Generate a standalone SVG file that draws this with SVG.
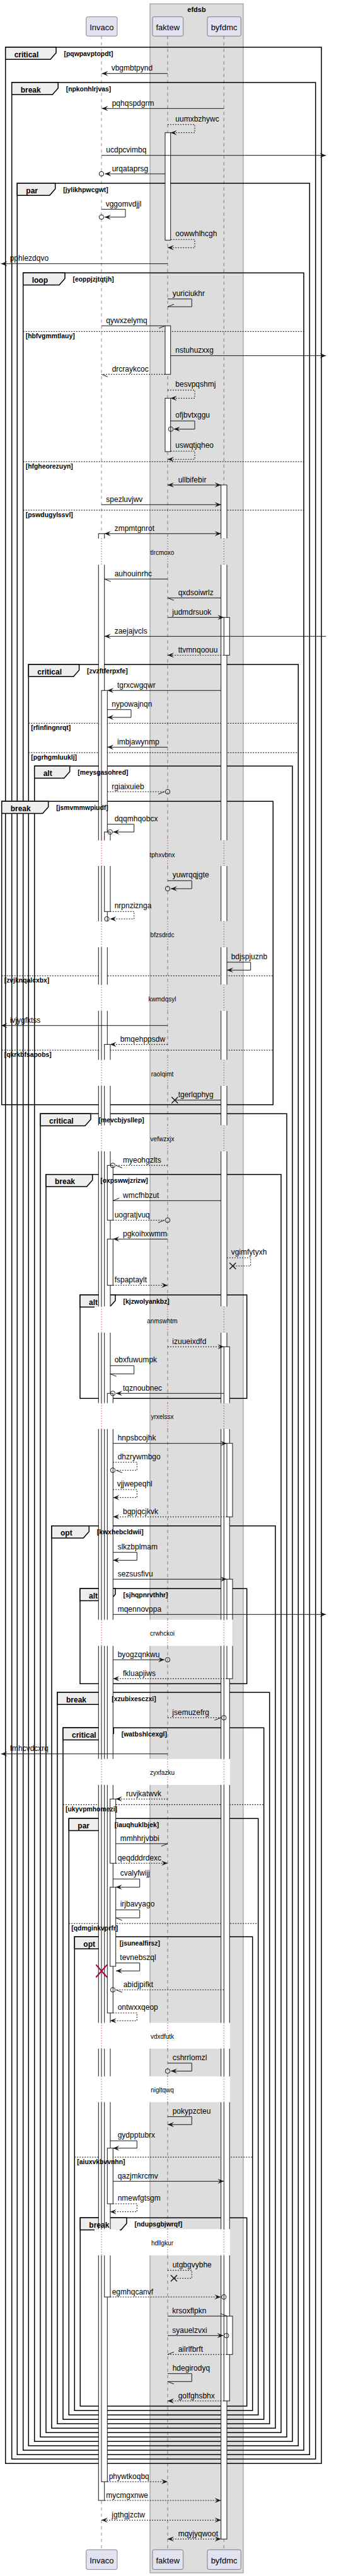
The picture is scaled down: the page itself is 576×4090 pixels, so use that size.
<svg xmlns="http://www.w3.org/2000/svg" xmlns:xlink="http://www.w3.org/1999/xlink" width="576" height="4090" viewBox="0 0 576 4090">
<style>
.t{font-family:"Liberation Sans",Arial,sans-serif;font-size:12px;fill:#000}
.kw{font-family:"Liberation Sans",Arial,sans-serif;font-size:12px;font-weight:bold;fill:#000}
.c{font-family:"Liberation Sans",Arial,sans-serif;font-size:10.4px;font-weight:bold;fill:#000}
.dt{font-family:"Liberation Sans",Arial,sans-serif;font-size:10px;fill:#000;text-anchor:middle}
.pn{font-family:"Liberation Sans",Arial,sans-serif;font-size:13px;fill:#000;text-anchor:middle}
.bt{font-family:"Liberation Sans",Arial,sans-serif;font-size:11px;font-weight:bold;fill:#000;text-anchor:middle}
.pb{fill:#E2E2F0;stroke:#181818;stroke-width:0.5}
.ll{fill:none;stroke:#181818;stroke-width:0.5;stroke-dasharray:5,5}
.dl{fill:none;stroke:#A80036;stroke-width:1;stroke-dasharray:1,3}
.bar{fill:#fff;stroke:#181818;stroke-width:1}
.wp{fill:#fff;stroke:none}
.gp{fill:#DDDDDD;stroke:none}
.fr{fill:none;stroke:#000;stroke-width:1.5}
.tab{fill:#EEEEEE;stroke:#000;stroke-width:1.5}
.sep{stroke:#000;stroke-width:1;stroke-dasharray:2,2}
.m{fill:none;stroke:#181818;stroke-width:1}
.d{stroke-dasharray:2,2}
.o{fill:none;stroke:#181818;stroke-width:1}
.x{fill:none;stroke:#181818;stroke-width:1.5}
</style>
<defs>
<marker id="f" markerUnits="userSpaceOnUse" markerWidth="12" markerHeight="10" refX="10" refY="4" orient="auto" overflow="visible"><polygon points="0,0 10,4 0,8 4,4" fill="#181818"/></marker>
<marker id="fs" markerUnits="userSpaceOnUse" markerWidth="12" markerHeight="10" refX="10" refY="4" orient="auto-start-reverse" overflow="visible"><polygon points="0,0 10,4 0,8 4,4" fill="#181818"/></marker>
<marker id="p" markerUnits="userSpaceOnUse" markerWidth="12" markerHeight="10" refX="10" refY="4" orient="auto" overflow="visible"><polyline points="0,8 10,4" fill="none" stroke="#181818" stroke-width="1"/></marker>
<marker id="n" markerUnits="userSpaceOnUse" markerWidth="12" markerHeight="10" refX="10" refY="4" orient="auto" overflow="visible"><polyline points="0,0 10,4" fill="none" stroke="#181818" stroke-width="1"/></marker>
<path id="lld" d="M0,57.3V855M0,896.7V1334.3M0,1375V1462.7M0,1504V1563.3M0,1605V1682.7M0,1724V1786.7M0,1828V2074.3M0,2116V2227.7M0,2269V2571.7M0,2613.3V2792.7M0,2834V3211.7M0,3252.7V3296.7M0,3337.7V3539.3M0,3581V4048.3"/>
<path id="lldot" d="M0,855V896.7M0,1334.3V1375M0,1462.7V1504M0,1563.3V1605M0,1682.7V1724M0,1786.7V1828M0,2074.3V2116M0,2227.7V2269M0,2571.7V2613.3M0,2792.7V2834M0,3211.7V3252.7M0,3296.7V3337.7M0,3539.3V3581"/>
</defs>
<rect width="576" height="4090" fill="#fff"/>
<g id="box-efdsb">
<rect x="238" y="6" width="148" height="4079" fill="#DDDDDD" stroke="#8a8a8a" stroke-width="1"/>
<text class="bt" x="312" y="18.7">efdsb</text>
</g>
<g id="delay-bg">
<rect class="wp" x="155.7" y="2571.7" width="213.3" height="41.6"/>
<rect class="wp" x="155.7" y="2792.7" width="209.3" height="41.3"/>
<rect class="wp" x="155.7" y="3211.7" width="209.3" height="41"/>
<rect class="wp" x="155.7" y="3296.7" width="209.3" height="41"/>
<rect class="wp" x="155.7" y="3539.3" width="209.3" height="41.7"/>
</g>
<g id="lifelines">
<use href="#lld" x="161" class="ll"/>
<use href="#lld" x="266" class="ll"/>
<use href="#lld" x="355.3" class="ll"/>
</g>
<g id="fragments">
<rect class="fr" x="8.7" y="75" width="501.3" height="3836.3"/>
<polygon class="tab" points="8.7,75 89,75 89,84 80,94.3 8.7,94.3"/>
<rect class="fr" x="18.7" y="131" width="482" height="3773.3"/>
<polygon class="tab" points="18.7,131 92.2,131 92.2,140 83.2,150.3 18.7,150.3"/>
<rect class="fr" x="27.3" y="291" width="464" height="3606.3"/>
<polygon class="tab" points="27.3,291 87.7,291 87.7,300 78.7,310.3 27.3,310.3"/>
<rect class="fr" x="36.7" y="433.3" width="445.3" height="3457"/>
<polygon class="tab" points="36.7,433.3 103,433.3 103,442.3 94,452.6 36.7,452.6"/>
<line class="sep" x1="36.7" y1="526.3" x2="482" y2="526.3"/>
<line class="sep" x1="36.7" y1="733" x2="482" y2="733"/>
<line class="sep" x1="36.7" y1="810" x2="482" y2="810"/>
<rect class="fr" x="45.3" y="1055" width="428" height="2828.3"/>
<polygon class="tab" points="45.3,1055 125.6,1055 125.6,1064 116.6,1074.3 45.3,1074.3"/>
<line class="sep" x1="45.3" y1="1148.3" x2="473.3" y2="1148.3"/>
<line class="sep" x1="45.3" y1="1195" x2="473.3" y2="1195"/>
<rect class="fr" x="54.7" y="1216.3" width="409.3" height="2660"/>
<polygon class="tab" points="54.7,1216.3 110.7,1216.3 110.7,1225.3 101.7,1235.6 54.7,1235.6"/>
<rect class="fr" x="2.7" y="1272.3" width="430.6" height="481.7"/>
<polygon class="tab" points="2.7,1272.3 76.7,1272.3 76.7,1281.3 67.7,1291.6 2.7,1291.6"/>
<line class="sep" x1="2.7" y1="1549.3" x2="433.3" y2="1549.3"/>
<line class="sep" x1="2.7" y1="1667.3" x2="433.3" y2="1667.3"/>
<rect class="fr" x="64" y="1768.3" width="391" height="2101"/>
<polygon class="tab" points="64,1768.3 144,1768.3 144,1777.3 135,1787.6 64,1787.6"/>
<rect class="fr" x="73" y="1864.7" width="373" height="1997.6"/>
<polygon class="tab" points="73,1864.7 146.7,1864.7 146.7,1873.7 137.7,1884 73,1884"/>
<rect class="fr" x="127" y="2056" width="264.7" height="164.3"/>
<polygon class="tab" points="127,2056 183,2056 183,2065 174,2075.3 127,2075.3"/>
<rect class="fr" x="82" y="2422.7" width="355" height="1432.6"/>
<polygon class="tab" points="82,2422.7 141.3,2422.7 141.3,2431.7 132.3,2442 82,2442"/>
<rect class="fr" x="127" y="2522.3" width="264.7" height="151"/>
<polygon class="tab" points="127,2522.3 183,2522.3 183,2531.3 174,2541.6 127,2541.6"/>
<rect class="fr" x="91" y="2687" width="336.7" height="1161.3"/>
<polygon class="tab" points="91,2687 164.7,2687 164.7,2696 155.7,2706.3 91,2706.3"/>
<rect class="fr" x="100" y="2743.3" width="318.7" height="1098"/>
<polygon class="tab" points="100,2743.3 180.3,2743.3 180.3,2752.3 171.3,2762.6 100,2762.6"/>
<line class="sep" x1="100" y1="2865.3" x2="418.7" y2="2865.3"/>
<rect class="fr" x="109.3" y="2887.3" width="300.4" height="947"/>
<polygon class="tab" points="109.3,2887.3 169.3,2887.3 169.3,2896.3 160.3,2906.6 109.3,2906.6"/>
<line class="sep" x1="109.3" y1="3054" x2="409.7" y2="3054"/>
<rect class="fr" x="118.3" y="3075" width="282.4" height="752.3"/>
<polygon class="tab" points="118.3,3075 177.3,3075 177.3,3084 168.3,3094.3 118.3,3094.3"/>
<line class="sep" x1="118.3" y1="3425" x2="400.7" y2="3425"/>
<rect class="fr" x="127.3" y="3521.3" width="264.4" height="299"/>
<polygon class="tab" points="127.3,3521.3 201,3521.3 201,3530.3 192,3540.6 127.3,3540.6"/>
</g>
<g id="activations">
<rect class="bar" x="156.3" y="847.3" width="9.4" height="3122.7"/>
<rect class="bar" x="161" y="1096.3" width="9.3" height="2844"/>
<rect class="bar" x="165.7" y="1321" width="9.3" height="126.3"/>
<rect class="bar" x="165.7" y="1658.3" width="9.3" height="1988.7"/>
<rect class="bar" x="170.3" y="1850.3" width="9" height="87"/>
<rect class="bar" x="170.3" y="1967.3" width="9" height="73.4"/>
<rect class="bar" x="170.3" y="2212.3" width="9" height="983.7"/>
<rect class="bar" x="170.3" y="3410.7" width="9" height="88.3"/>
<rect class="bar" x="174.7" y="2856.3" width="9" height="102"/>
<rect class="bar" x="174.7" y="2996.3" width="9" height="125.7"/>
<rect class="bar" x="262" y="210.7" width="8.7" height="170.6"/>
<rect class="bar" x="262" y="517.3" width="8.7" height="77"/>
<rect class="bar" x="262" y="632.3" width="8.7" height="84.7"/>
<rect class="bar" x="350.7" y="770" width="9.3" height="3261.3"/>
<rect class="bar" x="355.3" y="980.3" width="9" height="60"/>
<rect class="bar" x="355.3" y="2138.3" width="9" height="1673.7"/>
<rect class="bar" x="360" y="2291.7" width="9" height="116.6"/>
<rect class="bar" x="360" y="2507.3" width="9" height="158"/>
<rect class="bar" x="360" y="3677.3" width="9" height="61"/>
</g>
<g id="delays">
<rect class="wp" x="150" y="855" width="40" height="41.7"/>
<rect class="wp" x="150" y="1334.3" width="40" height="40.7"/>
<rect class="wp" x="150" y="1462.7" width="40" height="41.3"/>
<rect class="wp" x="150" y="1563.3" width="40" height="41.7"/>
<rect class="wp" x="150" y="1682.7" width="40" height="41.3"/>
<rect class="wp" x="150" y="1786.7" width="40" height="41.3"/>
<rect class="wp" x="150" y="2074.3" width="40" height="41.7"/>
<rect class="wp" x="150" y="2227.7" width="40" height="41.3"/>
<rect class="wp" x="150" y="2571.7" width="40" height="41.6"/>
<rect class="wp" x="150" y="2792.7" width="40" height="41.3"/>
<rect class="wp" x="150" y="3211.7" width="40" height="41"/>
<rect class="wp" x="150" y="3296.7" width="40" height="41"/>
<rect class="wp" x="150" y="3539.3" width="40" height="41.7"/>
<rect class="gp" x="349.5" y="855" width="21" height="41.7"/>
<rect class="gp" x="349.5" y="1334.3" width="21" height="40.7"/>
<rect class="gp" x="349.5" y="1462.7" width="21" height="41.3"/>
<rect class="gp" x="349.5" y="1563.3" width="21" height="41.7"/>
<rect class="gp" x="349.5" y="1682.7" width="21" height="41.3"/>
<rect class="gp" x="349.5" y="1786.7" width="21" height="41.3"/>
<rect class="gp" x="349.5" y="2074.3" width="21" height="41.7"/>
<rect class="gp" x="349.5" y="2227.7" width="21" height="41.3"/>
<rect class="wp" x="349.5" y="2571.7" width="20" height="41.6"/>
<rect class="gp" x="369.5" y="2571.7" width="1" height="41.6"/>
<rect class="wp" x="349.5" y="2792.7" width="15.5" height="41.3"/>
<rect class="wp" x="349.5" y="3211.7" width="15.5" height="41"/>
<rect class="wp" x="349.5" y="3296.7" width="15.5" height="41"/>
<rect class="wp" x="349.5" y="3539.3" width="15.5" height="41.7"/>
<rect class="gp" x="365" y="2792.7" width="5.5" height="41.3"/>
<rect class="gp" x="365" y="3211.7" width="5.5" height="41"/>
<rect class="gp" x="365" y="3296.7" width="5.5" height="41"/>
<rect class="gp" x="365" y="3539.3" width="5.5" height="41.7"/>
<use href="#lldot" x="161" class="dl"/>
<use href="#lldot" x="266" class="dl"/>
<use href="#lldot" x="355.3" class="dl"/>
<text class="dt" x="257.5" y="881">tlrcmoxo</text>
<text class="dt" x="257.5" y="1360.5">tphxvbnx</text>
<text class="dt" x="257.5" y="1488">bfzsdrdc</text>
<text class="dt" x="257.5" y="1589.5">kwmdqsyl</text>
<text class="dt" x="257.5" y="1708.5">raolqimt</text>
<text class="dt" x="257.5" y="1812">vefwzxjx</text>
<text class="dt" x="257.5" y="2100.5">anmswhtm</text>
<text class="dt" x="257.5" y="2253">yrxelssx</text>
<text class="dt" x="257.5" y="2597">crwhckoi</text>
<text class="dt" x="257.5" y="2818">zyxfazku</text>
<text class="dt" x="257.5" y="3237">vdxdfutk</text>
<text class="dt" x="257.5" y="3322">nigltqwq</text>
<text class="dt" x="257.5" y="3565">hdllgkur</text>
</g>
<g id="fragment-labels">
<text class="kw" x="22.7" y="90.7">critical</text><text class="c" x="101.5" y="88.7">[pqwpavptopdt]</text>
<text class="kw" x="32.7" y="146.7">break</text><text class="c" x="104.7" y="144.7">[npkonhlrjvas]</text>
<text class="kw" x="41.3" y="306.7">par</text><text class="c" x="100.2" y="304.7">[jylikhpwcgwt]</text>
<text class="kw" x="50.7" y="449">loop</text><text class="c" x="115.5" y="447">[eoppjzjtqtjh]</text>
<text class="c" x="40.7" y="537.3">[hbfvgmmtlauy]</text>
<text class="c" x="40.7" y="744">[hfgheorezuyn]</text>
<text class="c" x="40.7" y="821">[pswdugylssvl]</text>
<text class="kw" x="59.3" y="1070.7">critical</text><text class="c" x="138.1" y="1068.7">[zvzftferpxfe]</text>
<text class="c" x="49.3" y="1159.3">[rfinfingnrqt]</text>
<text class="c" x="49.3" y="1206">[pgrhgmluuklj]</text>
<text class="kw" x="68.7" y="1232">alt</text><text class="c" x="123.2" y="1230">[meysgasohred]</text>
<text class="kw" x="16.7" y="1288">break</text><text class="c" x="89.2" y="1286">[jsmvmmwpiudf]</text>
<text class="c" x="6.7" y="1560.3">[zvjknqalcxbx]</text>
<text class="c" x="6.7" y="1678.3">[qkrkbfsapobs]</text>
<text class="kw" x="78" y="1784">critical</text><text class="c" x="156.5" y="1782">[mevcbjysllep]</text>
<text class="kw" x="87" y="1880.4">break</text><text class="c" x="159.2" y="1878.4">[oxpswwjzrizw]</text>
<text class="kw" x="141" y="2071.7">alt</text><text class="c" x="195.5" y="2069.7">[kjzwolyankbz]</text>
<text class="kw" x="96" y="2438.4">opt</text><text class="c" x="153.8" y="2436.4">[kwxhebcldwii]</text>
<text class="kw" x="141" y="2538">alt</text><text class="c" x="195.5" y="2536">[sjhqpnrvthhr]</text>
<text class="kw" x="105" y="2702.7">break</text><text class="c" x="177.2" y="2700.7">[xzubixesczxi]</text>
<text class="kw" x="114" y="2759">critical</text><text class="c" x="192.8" y="2757">[watbshlcexgl]</text>
<text class="c" x="104" y="2876.3">[ukyvpmhomezi]</text>
<text class="kw" x="123.3" y="2903">par</text><text class="c" x="181.8" y="2901">[iauqhuklbjek]</text>
<text class="c" x="113.3" y="3065">[qdmginkvprfr]</text>
<text class="kw" x="132.3" y="3090.7">opt</text><text class="c" x="189.8" y="3088.7">[jsunealfirsz]</text>
<text class="c" x="122.3" y="3436">[aiuxvkbvvnhn]</text>
<text class="kw" x="141.3" y="3537">break</text><text class="c" x="213.5" y="3535">[ndupsgbjwrqf]</text>
</g>
<g id="p-invaco">
<rect class="pb" x="136.7" y="26.7" width="49.3" height="30.6" rx="2.5"/>
<text class="pn" x="161.3" y="48.3">Invaco</text>
<rect class="pb" x="136.7" y="4048.3" width="49.3" height="31.3" rx="2.5"/>
<text class="pn" x="161.3" y="4070">Invaco</text>
</g>
<g id="p-faktew">
<rect class="pb" x="242" y="26.7" width="48.7" height="30.6" rx="2.5"/>
<text class="pn" x="266.3" y="48.3">faktew</text>
<rect class="pb" x="242" y="4048.3" width="48.7" height="31.3" rx="2.5"/>
<text class="pn" x="266.3" y="4070">faktew</text>
</g>
<g id="p-byfdmc">
<rect class="pb" x="329" y="26.7" width="53.3" height="30.6" rx="2.5"/>
<text class="pn" x="355.6" y="48.3">byfdmc</text>
<rect class="pb" x="329" y="4048.3" width="53.3" height="31.3" rx="2.5"/>
<text class="pn" x="355.6" y="4070">byfdmc</text>
</g>
<g id="destroy-invaco">
<path d="M152.3,3119.3L170,3139.5M170,3119.3L152.3,3139.5" fill="none" stroke="#A80036" stroke-width="2"/>
</g>
<g id="connectors">
<line class="m" x1="266" y1="116.7" x2="161.5" y2="116.7" marker-end="url(#f)"/><text class="t" x="176.7" y="112.2">vbgmbtpynd</text>
<line class="m" x1="355.3" y1="172.3" x2="161.5" y2="172.3" marker-end="url(#f)"/><text class="t" x="177.7" y="167.8">pqhqspdgrm</text>
<polyline class="m d" points="266,197.7 309,197.7 309,210.7 270.7,210.7" marker-end="url(#f)"/><text class="t" x="278.3" y="192.7">uumxbzhywc</text>
<line class="m" x1="161" y1="246.7" x2="517.3" y2="246.7" marker-end="url(#f)"/><text class="t" x="168.3" y="242.2">ucdpcvimbq</text>
<line class="m" x1="262" y1="276" x2="166.5" y2="276" marker-end="url(#f)"/><circle class="o" cx="161" cy="276" r="3.7"/><text class="t" x="177.7" y="271.5">urqataprsg</text>
<polyline class="m" points="161,332.3 199,332.3 199,344.7 166,344.7" marker-end="url(#f)"/><circle class="o" cx="161" cy="344.7" r="3.7"/><text class="t" x="167.7" y="327.5">vggomvdjjl</text>
<polyline class="m d" points="270.7,380.3 309,380.3 309,393.3 266,393.3" marker-end="url(#f)"/><text class="t" x="278.3" y="375.3">oowwhlhcgh</text>
<line class="m" x1="266" y1="418.7" x2="1.7" y2="418.7" marker-end="url(#f)"/><text class="t" x="15.7" y="414.2">pphlezdqvo</text>
<polyline class="m" points="266,474.7 304.3,474.7 304.3,487 266,487" marker-end="url(#p)"/><text class="t" x="273.7" y="469.7">yuriciukhr</text>
<line class="m" x1="161" y1="517.3" x2="262" y2="517.3" marker-end="url(#p)"/><text class="t" x="168.3" y="512.8">qywxzelymq</text>
<line class="m" x1="270.7" y1="564.7" x2="517.3" y2="564.7" marker-end="url(#f)"/><text class="t" x="278.3" y="560.2">nstuhuzxxg</text>
<line class="m d" x1="262" y1="594.3" x2="161" y2="594.3" marker-end="url(#n)"/><text class="t" x="177.7" y="589.8">drcraykcoc</text>
<polyline class="m d" points="266,619.3 309,619.3 309,632.3 270.7,632.3" marker-end="url(#f)"/><text class="t" x="278.3" y="614.3">besvpqshmj</text>
<polyline class="m" points="270.7,668.3 309,668.3 309,681.3 275.7,681.3" marker-end="url(#f)"/><circle class="o" cx="271" cy="681.3" r="3.7"/><text class="t" x="278.3" y="663.3">ofjbvtxggu</text>
<polyline class="m d" points="270.7,716.3 309,716.3 309,729.3 266,729.3" marker-end="url(#f)"/><text class="t" x="278.3" y="711.3">uswqtjqheo</text>
<line class="m" x1="266" y1="770" x2="350.7" y2="770" marker-start="url(#fs)" marker-end="url(#f)"/><text class="t" x="282.7" y="765.5">ullbifebir</text>
<line class="m" x1="161" y1="801.3" x2="350.7" y2="801.3" marker-end="url(#f)"/><text class="t" x="168.3" y="796.8">spezluvjwv</text>
<line class="m" x1="165.7" y1="847.3" x2="350.7" y2="847.3" marker-start="url(#fs)" marker-end="url(#f)"/><text class="t" x="181.7" y="842.8">zmpmtgnrot</text>
<line class="m" x1="266" y1="919.3" x2="165.7" y2="919.3" marker-end="url(#n)"/><text class="t" x="181.7" y="914.8">auhouinrhc</text>
<line class="m" x1="350.7" y1="949.3" x2="266" y2="949.3" marker-end="url(#n)"/><text class="t" x="282.7" y="944.8">qxdsoiwrlz</text>
<line class="m" x1="266" y1="980.3" x2="355.3" y2="980.3" marker-end="url(#f)"/><text class="t" x="273.3" y="975.8">judmdrsuok</text>
<line class="m" x1="517.3" y1="1010.3" x2="165.7" y2="1010.3" marker-end="url(#f)"/><text class="t" x="181.7" y="1005.8">zaejajvcls</text>
<line class="m d" x1="355.3" y1="1040.3" x2="266" y2="1040.3" marker-end="url(#f)"/><text class="t" x="282.7" y="1035.8">ttvmnqoouu</text>
<line class="m" x1="350.7" y1="1096.3" x2="170.3" y2="1096.3" marker-end="url(#f)"/><text class="t" x="186" y="1091.8">tgrxcwgqwr</text>
<polyline class="m" points="170.3,1126.7 208,1126.7 208,1139 170.3,1139" marker-end="url(#f)"/><text class="t" x="177.3" y="1121.7">nypowajnqn</text>
<line class="m" x1="266" y1="1186.3" x2="170.3" y2="1186.3" marker-end="url(#f)"/><text class="t" x="186" y="1181.8">imbjawynmp</text>
<line class="m d" x1="170.3" y1="1257" x2="261" y2="1257" marker-end="url(#p)"/><circle class="o" cx="266" cy="1257" r="3.7"/><text class="t" x="177.3" y="1252.5">rgiaixuieb</text>
<polyline class="m" points="170.3,1308.7 212.7,1308.7 212.7,1321 179.5,1321" marker-end="url(#f)"/><circle class="o" cx="174.7" cy="1321" r="3.7"/><text class="t" x="181.7" y="1303.7">dqqmhqobcx</text>
<polyline class="m" points="266,1398.3 304.3,1398.3 304.3,1411 271,1411" marker-end="url(#f)"/><circle class="o" cx="266" cy="1411" r="3.7"/><text class="t" x="273.7" y="1393.3">yuwrqqjgte</text>
<polyline class="m d" points="174.7,1447.3 212.7,1447.3 212.7,1459 174.5,1459" marker-end="url(#f)"/><circle class="o" cx="169.5" cy="1459" r="3.7"/><text class="t" x="181.7" y="1442.3">nrpnziznga</text>
<polyline class="m" points="360,1527.7 397.7,1527.7 397.7,1540.3 360,1540.3" marker-end="url(#f)"/><text class="t" x="366.7" y="1522.7">bdjspjuznb</text>
<line class="m" x1="266" y1="1628.3" x2="1.7" y2="1628.3" marker-end="url(#f)"/><text class="t" x="15.7" y="1623.8">ivjygfktss</text>
<line class="m d" x1="266" y1="1658.3" x2="174.7" y2="1658.3" marker-end="url(#f)"/><text class="t" x="190.7" y="1653.8">bmqehppsdw</text>
<line class="m" x1="350.7" y1="1746.7" x2="277.3" y2="1746.7"/><path class="x" d="M272.3,1741.7l10,10m0,-10l-10,10"/><text class="t" x="282.7" y="1742.2">tgerlqphyg</text>
<line class="m d" x1="266" y1="1850.3" x2="184" y2="1850.3" marker-end="url(#n)"/><circle class="o" cx="179" cy="1850.3" r="3.7"/><text class="t" x="195" y="1845.8">myeohgzlts</text>
<line class="m" x1="350.7" y1="1906.3" x2="179.3" y2="1906.3" marker-end="url(#p)"/><text class="t" x="195" y="1901.8">wmcfhbzut</text>
<line class="m d" x1="179.3" y1="1937.3" x2="261" y2="1937.3" marker-end="url(#p)"/><circle class="o" cx="266" cy="1937.3" r="3.7"/><text class="t" x="181.7" y="1932.8">uogratjvuq</text>
<line class="m" x1="266" y1="1967.3" x2="179.3" y2="1967.3" marker-end="url(#f)"/><text class="t" x="195" y="1962.8">pgkoihxwmm</text>
<polyline class="m d" points="360,1997 397.7,1997 397.7,2010 369.3,2010"/><path class="x" d="M364.3,2005l10,10m0,-10l-10,10"/><text class="t" x="366.7" y="1992">vgimfytyxh</text>
<line class="m d" x1="179.3" y1="2040.7" x2="266" y2="2040.7" marker-end="url(#f)"/><text class="t" x="181.7" y="2036.2">fspaptaylt</text>
<line class="m d" x1="266" y1="2138.3" x2="355.3" y2="2138.3" marker-end="url(#f)"/><text class="t" x="273.3" y="2133.8">izuueixdfd</text>
<polyline class="m" points="174.7,2168.3 212.7,2168.3 212.7,2181.3 174.7,2181.3" marker-end="url(#n)"/><text class="t" x="181.7" y="2163.3">obxfuwumpk</text>
<line class="m" x1="355.3" y1="2212.3" x2="184" y2="2212.3" marker-end="url(#f)"/><circle class="o" cx="179" cy="2212.3" r="3.7"/><text class="t" x="195" y="2207.8">tqznoubnec</text>
<line class="m" x1="179.3" y1="2291.7" x2="360" y2="2291.7" marker-end="url(#f)"/><text class="t" x="186.7" y="2287.2">hnpsbcojhk</text>
<polyline class="m d" points="179.3,2321.7 217.3,2321.7 217.3,2334.3 184,2334.3" marker-end="url(#n)"/><circle class="o" cx="179" cy="2334.3" r="3.7"/><text class="t" x="186.7" y="2316.7">dhzrywmbgo</text>
<polyline class="m d" points="179.3,2365 217.3,2365 217.3,2377.7 179.3,2377.7" marker-end="url(#f)"/><text class="t" x="185.7" y="2360">vjjwepeqhl</text>
<line class="m d" x1="360" y1="2408.3" x2="179.3" y2="2408.3" marker-end="url(#f)"/><text class="t" x="195" y="2403.8">bgpjqcjkvk</text>
<polyline class="m" points="179.3,2464.7 217.3,2464.7 217.3,2477.3 179.3,2477.3" marker-end="url(#f)"/><text class="t" x="186.7" y="2459.7">slkzbplmam</text>
<line class="m" x1="179.3" y1="2507.3" x2="360" y2="2507.3" marker-end="url(#f)"/><text class="t" x="186.7" y="2502.8">sezsusfivu</text>
<line class="m" x1="179.3" y1="2563.3" x2="517.3" y2="2563.3" marker-end="url(#f)"/><text class="t" x="186.7" y="2558.8">mqennovppa</text>
<line class="m" x1="179.3" y1="2635.3" x2="261" y2="2635.3" marker-end="url(#f)"/><circle class="o" cx="266" cy="2635.3" r="3.7"/><text class="t" x="186.7" y="2630.8">byogzqnkwu</text>
<line class="m d" x1="360" y1="2665.3" x2="179.3" y2="2665.3" marker-end="url(#f)"/><text class="t" x="195" y="2660.8">fkluapjiws</text>
<line class="m d" x1="266" y1="2727.3" x2="350.3" y2="2727.3" marker-end="url(#p)"/><circle class="o" cx="355.3" cy="2727.3" r="3.7"/><text class="t" x="273.3" y="2722.8">jsemuzefrg</text>
<line class="m" x1="266" y1="2784.7" x2="1.7" y2="2784.7" marker-end="url(#f)"/><text class="t" x="15.7" y="2780.2">fmhcvdcxrq</text>
<line class="m d" x1="266" y1="2856.3" x2="183.7" y2="2856.3" marker-end="url(#f)"/><text class="t" x="200" y="2851.8">ruvjkatwvk</text>
<line class="m" x1="183.7" y1="2927.3" x2="266" y2="2927.3" marker-end="url(#p)"/><text class="t" x="190.7" y="2922.8">mmhhrjvbbi</text>
<line class="m d" x1="183.7" y1="2958.3" x2="266" y2="2958.3" marker-end="url(#f)"/><text class="t" x="186.7" y="2953.8">qeqdddrdexc</text>
<polyline class="m" points="179.3,2983.3 221.7,2983.3 221.7,2996.3 183.7,2996.3" marker-end="url(#f)"/><text class="t" x="190.7" y="2978.3">cvalyfwijj</text>
<polyline class="m" points="183.7,3032.3 221.7,3032.3 221.7,3045 183.7,3045" marker-end="url(#n)"/><text class="t" x="190.7" y="3027.3">irjbavyago</text>
<polyline class="m" points="183.7,3116.7 221.7,3116.7 221.7,3129.3 184,3129.3" marker-end="url(#f)"/><text class="t" x="190.3" y="3111.7">tevnebszql</text>
<line class="m d" x1="355.3" y1="3159.3" x2="184" y2="3159.3" marker-end="url(#n)"/><circle class="o" cx="179" cy="3159.3" r="3.7"/><text class="t" x="195.7" y="3154.8">abidjpifkt</text>
<polyline class="m d" points="179.3,3196 217.3,3196 217.3,3208.3 174.7,3208.3" marker-end="url(#f)"/><text class="t" x="186.7" y="3191">ontwxxqeop</text>
<polyline class="m" points="266,3275.7 304.3,3275.7 304.3,3288.3 271,3288.3" marker-end="url(#f)"/><circle class="o" cx="266" cy="3288.3" r="3.7"/><text class="t" x="273.7" y="3270.7">cshrrlomzl</text>
<polyline class="m" points="266,3360.7 304.3,3360.7 304.3,3373.3 266,3373.3" marker-end="url(#f)"/><text class="t" x="273.7" y="3355.7">pokypzcteu</text>
<polyline class="m" points="174.7,3399 217.3,3399 217.3,3410.7 179.3,3410.7" marker-end="url(#f)"/><text class="t" x="186.7" y="3394">gydpptubrx</text>
<line class="m" x1="179.3" y1="3463.3" x2="355.3" y2="3463.3" marker-end="url(#f)"/><text class="t" x="186.7" y="3458.8">qazjmkrcmv</text>
<polyline class="m d" points="179.3,3499 217.3,3499 217.3,3511.7 174.7,3511.7" marker-end="url(#f)"/><text class="t" x="186.7" y="3494">nmewfgtsgm</text>
<polyline class="m d" points="266,3604.7 304.3,3604.7 304.3,3617.3 276,3617.3"/><path class="x" d="M271,3612.3l10,10m0,-10l-10,10"/><text class="t" x="273.7" y="3599.7">utgbgvybhe</text>
<line class="m d" x1="174.7" y1="3647" x2="350.3" y2="3647" marker-end="url(#f)"/><circle class="o" cx="355.3" cy="3647" r="3.7"/><text class="t" x="177.7" y="3642.5">egmhqcanvf</text>
<line class="m" x1="266" y1="3677.3" x2="360" y2="3677.3" marker-end="url(#n)"/><text class="t" x="273.3" y="3672.8">krsoxflpkn</text>
<line class="m" x1="266" y1="3708.3" x2="354.5" y2="3708.3" marker-end="url(#f)"/><circle class="o" cx="359.3" cy="3708.3" r="3.7"/><text class="t" x="273.3" y="3703.8">syauelzvxi</text>
<line class="m d" x1="360" y1="3738.3" x2="266" y2="3738.3" marker-end="url(#p)"/><text class="t" x="282.7" y="3733.8">ailrlfbrft</text>
<polyline class="m" points="266,3768.7 304.3,3768.7 304.3,3781.3 266,3781.3" marker-end="url(#n)"/><text class="t" x="273.7" y="3763.7">hdegirodyq</text>
<line class="m d" x1="355.3" y1="3812" x2="266" y2="3812" marker-end="url(#f)"/><text class="t" x="282.7" y="3807.5">golfghsbhx</text>
<line class="m d" x1="170.3" y1="3940.3" x2="266" y2="3940.3" marker-end="url(#f)"/><text class="t" x="172.7" y="3935.8">phywtkoqbq</text>
<line class="m d" x1="165.7" y1="3970" x2="350.7" y2="3970" marker-end="url(#f)"/><text class="t" x="168.3" y="3965.5">mycmgxnwe</text>
<line class="m d" x1="161" y1="4001.3" x2="350.7" y2="4001.3" marker-start="url(#fs)" marker-end="url(#f)"/><text class="t" x="177.3" y="3996.8">jgthgjzctw</text>
<line class="m d" x1="266" y1="4031.3" x2="350.7" y2="4031.3" marker-start="url(#fs)" marker-end="url(#f)"/><text class="t" x="282.7" y="4026.8">mqyjyqwoot</text>
</g>
</svg>
